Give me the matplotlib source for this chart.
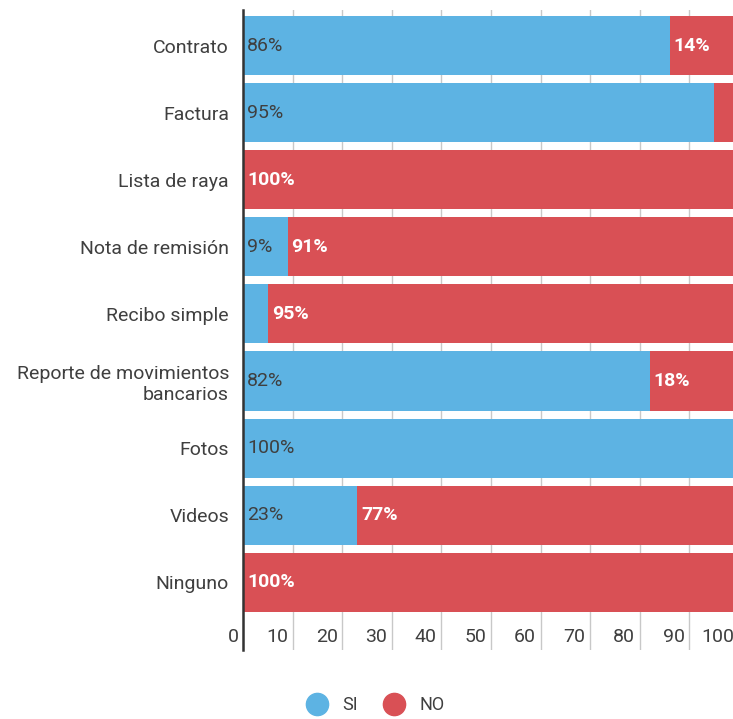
import matplotlib
matplotlib.use("Agg")
import matplotlib.pyplot as plt
from matplotlib.lines import Line2D
import numpy as np

plt.rcParams['font.family'] = ['Roboto', 'DejaVu Sans']

# datos
categorias = ['Contrato', 'Factura', 'Lista de raya', 'Nota de remisión', 'Recibo simple',
              'Reporte de movimientos\nbancarios', 'Fotos', 'Videos', 'Ninguno']
si = [86, 95, 0, 9, 5, 82, 100, 23, 0]
no = [14, 5, 100, 91, 95, 18, 0, 77, 100]
xticks = [0, 10, 20, 30, 40, 50, 60, 70, 80, 90, 100]

colorSi = '#5db3e3'
colorNo = '#d95055'
colorTexto = '#3f3f3f'
fs = 14
minEtiqueta = 8    # segmentos pequeños sin etiqueta

fig = plt.figure(figsize=(7.33, 7.19), dpi=100)
ax = fig.add_axes([243/733, 1-650/719, (739-243)/733, 640/719])

y = np.arange(len(categorias))
ax.barh(y, si, height=0.88, color=colorSi, zorder=2)
ax.barh(y, no, left=si, height=0.88, color=colorNo, zorder=2)

for i in range(len(categorias)):
    if si[i] >= minEtiqueta:
        ax.text(0.8, y[i], '%d%%' % si[i], ha='left', va='center',
                fontsize=fs, color=colorTexto, zorder=3)
    if no[i] >= minEtiqueta:
        ax.text(si[i]+0.8, y[i], '%d%%' % no[i], ha='left', va='center',
                fontsize=fs, color='white', fontweight='bold', zorder=3)

ax.set_xlim(0, 100)
ax.set_ylim(9.01, -0.53)
ax.set_xticks(xticks)
ax.tick_params(axis='x', length=0, labelbottom=False)
ax.grid(axis='x', color='#c8c8c8', lw=1, zorder=0)
ax.set_axisbelow(True)

ax.set_yticks(y)
ax.set_yticklabels(categorias, fontsize=fs, color=colorTexto)
ax.tick_params(axis='y', length=0, pad=10)

for s in ['top', 'right', 'bottom']:
    ax.spines[s].set_visible(False)
ax.spines['left'].set_color('#333333')
ax.spines['left'].set_linewidth(1.8)
ax.spines['left'].set_zorder(4)

# etiquetas del eje x dentro del área, a la izquierda de cada línea
for t in xticks:
    ax.text(t-0.9, 8.82, str(t), ha='right', va='center', fontsize=fs, color=colorTexto)

handles = [Line2D([], [], marker='o', ls='', markersize=16, color=colorSi),
           Line2D([], [], marker='o', ls='', markersize=16, color=colorNo)]
fig.legend(handles, ['SI', 'NO'], loc='center', bbox_to_anchor=(372/733, 1-705/719),
           ncol=2, frameon=False, fontsize=fs-1, handletextpad=0.4, columnspacing=1.0,
           labelcolor=colorTexto)

fig.savefig('out.png', dpi=100)
